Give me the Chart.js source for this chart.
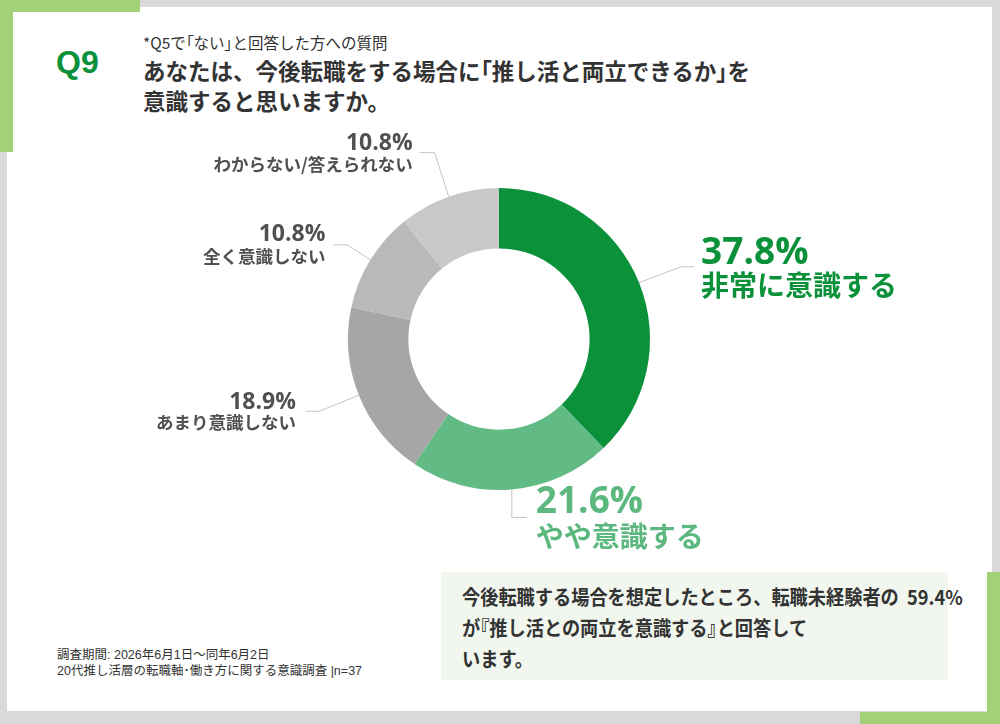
<!DOCTYPE html>
<html><head><meta charset="utf-8">
<script src="https://cdn.jsdelivr.net/npm/chart.js@4.4.1/dist/chart.umd.min.js"></script>
<style>
html,body{margin:0;padding:0;}
body{width:1000px;height:724px;background:#d9d9d9;position:relative;overflow:hidden;font-family:"Noto Sans CJK JP","Noto Sans",sans-serif;color:#333;}
.abs{position:absolute;white-space:nowrap;}
.p{font-feature-settings:"palt";}
#card{left:7px;top:7px;width:985px;height:704px;background:#fff;}
.g{position:absolute;background:#a3d177;}
#q9{left:56px;top:42px;font-family:"Liberation Sans",Arial,sans-serif;font-weight:700;font-size:32px;line-height:40px;color:#0a9139;}
#sub{left:143px;top:32px;font-size:15.5px;line-height:20px;color:#333;}
#title{left:143px;top:55px;font-size:22.5px;line-height:30px;font-weight:700;color:#333;}
#foot{left:57px;top:647px;font-family:"Liberation Sans","Noto Sans CJK JP",sans-serif;font-size:12.5px;line-height:16px;color:#333;}
#box{left:441px;top:572px;width:507px;height:108px;background:#f1f7ee;}
#boxtext{left:462px;top:581px;font-size:20px;line-height:31px;font-weight:700;color:#333;transform-origin:0 0;transform:scaleX(0.91);}
#wrap{left:0;top:0;width:1000px;height:724px;}
</style></head>
<body>
<div id="card" class="abs"></div>
<div class="g" style="left:0;top:0;width:140px;height:12px"></div>
<div class="g" style="left:0;top:0;width:13px;height:152px"></div>
<div class="g" style="left:987px;top:572px;width:13px;height:152px"></div>
<div class="g" style="left:860px;top:712px;width:140px;height:12px"></div>
<div id="q9" class="abs">Q9</div>
<div id="sub" class="abs">*Q5で<span class="p">「</span>ない<span class="p">」</span>と回答した方への質問</div>
<div id="title" class="abs">あなたは、今後転職をする場合に<span class="p">「</span>推し活と両立できるか<span class="p">」</span>を<br>意識すると思いますか。</div>
<div id="box" class="abs"></div>
<div id="boxtext" class="abs">今後転職する場合を想定したところ、転職未経験者の&nbsp;&nbsp;59.4%<br>が<span class="p">『</span>推し活との両立を意識する<span class="p">』</span>と回答して<br>います。</div>
<div id="foot" class="abs">調査期間: 2026年6月1日～同年6月2日<br>20代推し活層の転職軸･働き方に関する意識調査 |n=37</div>
<div id="wrap" class="abs"><canvas id="c"></canvas></div>
<script>
const categories = ["非常に意識する","やや意識する","あまり意識しない","全く意識しない","わからない/答えられない"];
const values = [37.8, 21.6, 18.9, 10.8, 10.8];
const colors = ["#0a9139","#62bb85","#a6a6a6","#b9b9b9","#c8c8c8"];

const labelLayout = [
  {elbow:[42,-16], tail:13, gap:7, pctDy:-13, lblDy:19, pctSize:37, lblSize:28, color:"#0a9139"},
  {elbow:[0,28], tail:15, gap:9, pctDy:-15, lblDy:19, pctSize:37, lblSize:28, color:"#5cb87f"},
  {elbow:[-40,16], tail:-13, gap:10, pctDy:-9, lblDy:11, pctSize:23, lblSize:17.5, color:"#505050"},
  {elbow:[-23,-15], tail:-14, gap:8, pctDy:-10, lblDy:12, pctSize:23, lblSize:17.5, color:"#505050"},
  {elbow:[-14,-44], tail:-15, gap:7, pctDy:-9, lblDy:12, pctSize:23, lblSize:17.5, color:"#505050"}
];

const sliceLabels = {
  id:'sliceLabels',
  afterDatasetsDraw(chart){
    const ctx = chart.ctx;
    const meta = chart.getDatasetMeta(0);
    meta.data.forEach((arc,i)=>{
      const p = arc.getProps(['x','y','startAngle','endAngle','outerRadius'], true);
      const mid = (p.startAngle+p.endAngle)/2;
      const sx = p.x + Math.cos(mid)*p.outerRadius;
      const sy = p.y + Math.sin(mid)*p.outerRadius;
      const L = labelLayout[i];
      const ex = sx + L.elbow[0], ey = sy + L.elbow[1];
      const tx = ex + L.tail, ty = ey;
      ctx.save();
      ctx.beginPath(); ctx.moveTo(sx,sy); ctx.lineTo(ex,ey); ctx.lineTo(tx,ty);
      ctx.strokeStyle='#c4c4c4'; ctx.lineWidth=1; ctx.stroke();
      const dir = L.tail>0?1:-1;
      const x = tx + dir*L.gap;
      ctx.textAlign = dir>0?'left':'right';
      ctx.textBaseline='middle';
      ctx.fillStyle=L.color;
      ctx.font = `700 ${L.pctSize}px "Open Sans", "Liberation Sans", sans-serif`;
      ctx.fillText(values[i].toFixed(1)+'%', x, ty+L.pctDy);
      ctx.font = `700 ${L.lblSize}px "Noto Sans CJK JP", sans-serif`;
      ctx.fillText(categories[i], x, ty+L.lblDy);
      ctx.restore();
    });
  }
};

new Chart(document.getElementById('c'), {
  type:'doughnut',
  data:{labels:categories, datasets:[{data:values, backgroundColor:colors, borderWidth:0, hoverOffset:0}]},
  options:{
    responsive:true, maintainAspectRatio:false, animation:false,
    cutout:'60%',
    layout:{padding:{left:348,right:350,top:188,bottom:234}},
    plugins:{legend:{display:false}, tooltip:{enabled:false}}
  },
  plugins:[sliceLabels]
});
</script>
</body></html>
